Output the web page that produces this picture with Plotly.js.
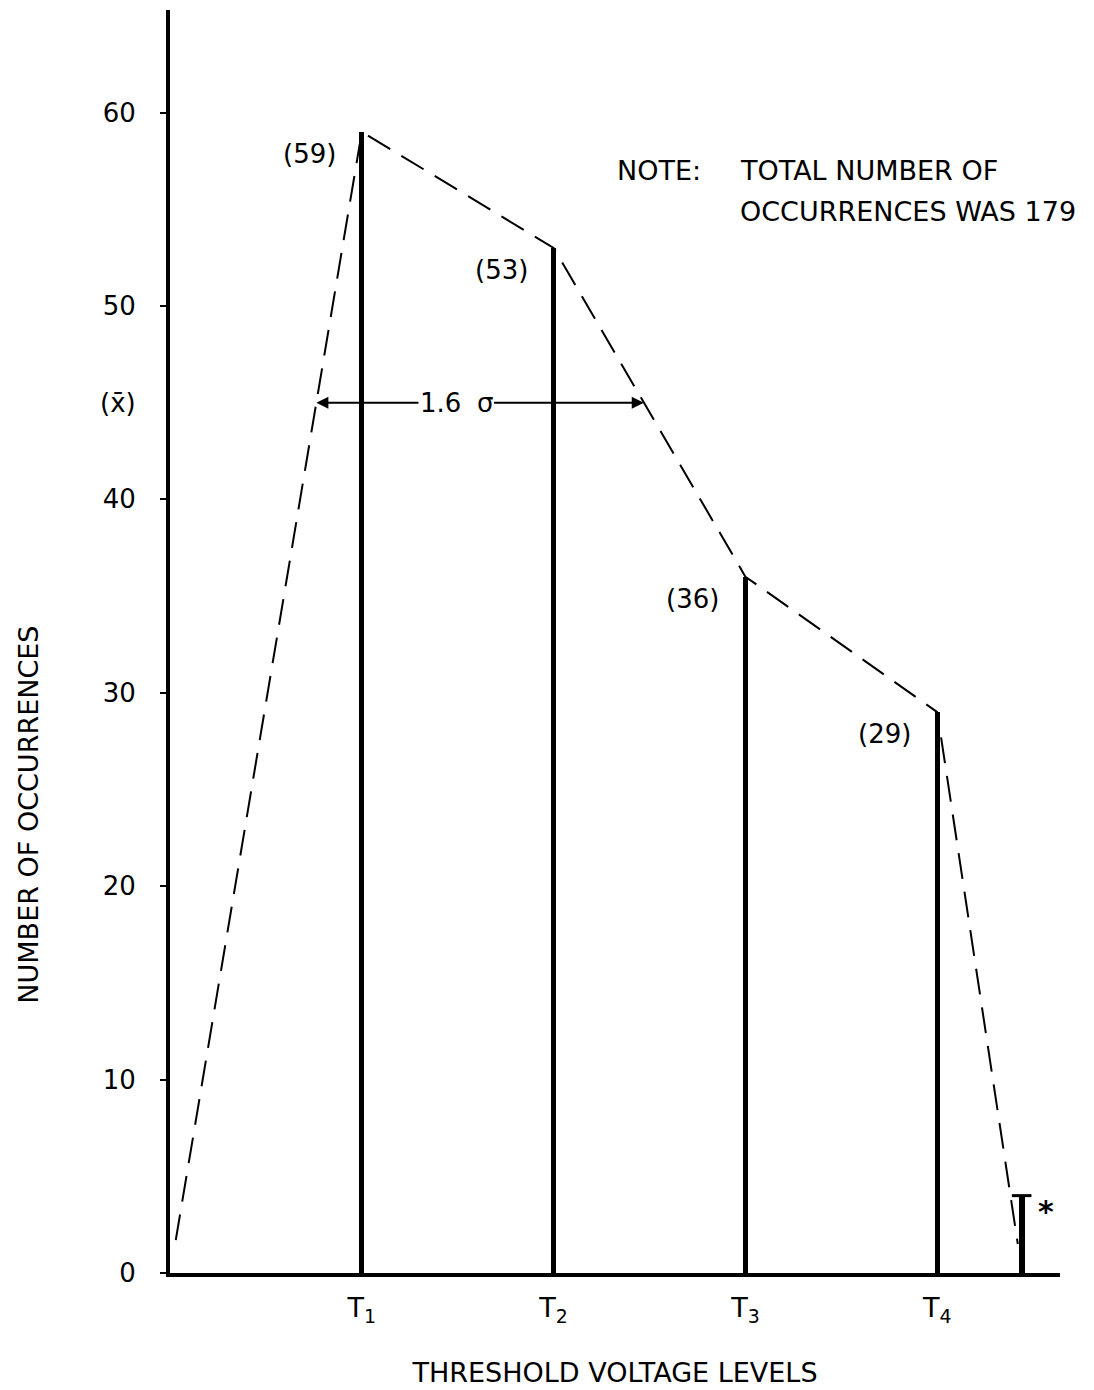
<!DOCTYPE html>
<html>
<head>
<meta charset="utf-8">
<script src="https://cdn.plot.ly/plotly-3.0.1.min.js"></script>
<style>html,body{margin:0;padding:0;background:#fff;}</style>
</head>
<body>
<div id="chart" style="width:1094px;height:1390px;"></div>
<script>
// ---- data ----
const levelPos = [1, 2, 3, 4];
const levelLabels = ["T<sub>1</sub>", "T<sub>2</sub>", "T<sub>3</sub>", "T<sub>4</sub>"];
const occurrences = [59, 53, 36, 29];
const countLabels = ["(59)", "(53)", "(36)", "(29)"];
const extraPos = [4.44];
const extraCount = [4];
const envelopeX = [0.03, 1, 2, 3, 4, 4.42];
const envelopeY = [1.7, 59, 53, 36, 29, 1.5];
const yTicks = [0, 10, 20, 30, 40, 50, 60];
const meanLevel = 45;
const spreadLeft = 0.763;
const spreadRight = 2.47;
const spreadText = ["1.6", "σ"];
const spreadTextPos = [1.41, 1.64];
const noteHead = "NOTE:";
const noteLines = ["TOTAL NUMBER OF", "OCCURRENCES WAS 179"];
const xTitle = "THRESHOLD VOLTAGE LEVELS";
const yTitle = "NUMBER OF OCCURRENCES";

const FONT = "'DejaVu Sans', 'Noto Sans', sans-serif";

const traces = [
  {
    type: "bar", x: levelPos, y: occurrences, width: 0.026,
    marker: {color: "#000", line: {width: 0}}, hoverinfo: "skip", showlegend: false
  },
  {
    type: "bar", x: extraPos, y: extraCount, width: 0.032,
    marker: {color: "#000", line: {width: 0}}, hoverinfo: "skip", showlegend: false
  },
  {
    type: "scatter", mode: "markers", x: extraPos, y: extraCount,
    marker: {symbol: "line-ew", size: 14, line: {width: 3, color: "#000"}},
    hoverinfo: "skip", showlegend: false
  },
  {
    type: "scatter", mode: "lines", x: envelopeX, y: envelopeY,
    line: {color: "#000", width: 2, dash: "26px,13px"},
    hoverinfo: "skip", showlegend: false
  }
];

const annotations = [];
levelPos.forEach((x, i) => {
  annotations.push({
    x: x, y: occurrences[i], xref: "x", yref: "y", text: countLabels[i],
    showarrow: false, xanchor: "right", yanchor: "middle", xshift: -24, yshift: -22,
    font: {family: FONT, size: 26, color: "#000"}
  });
});
// 1.6 sigma double arrow: each half of the label carries one arrow
annotations.push({
  x: spreadLeft, y: meanLevel, ax: spreadTextPos[0], ay: meanLevel,
  xref: "x", yref: "y", axref: "x", ayref: "y",
  text: spreadText[0], showarrow: true, arrowhead: 2, arrowsize: 1.2, arrowwidth: 2, arrowcolor: "#000",
  font: {family: FONT, size: 26, color: "#000"}
});
annotations.push({
  x: spreadRight, y: meanLevel, ax: spreadTextPos[1], ay: meanLevel,
  xref: "x", yref: "y", axref: "x", ayref: "y",
  text: spreadText[1], showarrow: true, arrowhead: 2, arrowsize: 1.2, arrowwidth: 2, arrowcolor: "#000",
  font: {family: FONT, size: 26, color: "#000"}
});
annotations.push({
  x: 0, y: meanLevel, xref: "x", yref: "y", text: "(x̄)", showarrow: false,
  xanchor: "right", xshift: -32, font: {family: FONT, size: 26, color: "#000"}
});
// note
annotations.push({
  x: 2.32, y: 57, xref: "x", yref: "y", text: noteHead, showarrow: false,
  xanchor: "left", yanchor: "middle", font: {family: FONT, size: 27, color: "#000"}
});
annotations.push({
  x: 2.96, y: 57, xref: "x", yref: "y", text: noteLines[0], showarrow: false,
  xanchor: "left", yanchor: "middle", font: {family: FONT, size: 27, color: "#000"}
});
annotations.push({
  x: 2.96, y: 54.9, xref: "x", yref: "y", text: noteLines[1], showarrow: false,
  xanchor: "left", yanchor: "middle", font: {family: FONT, size: 27, color: "#000"}
});
// asterisk
annotations.push({
  x: extraPos[0], y: extraCount[0], xref: "x", yref: "y", text: "<b>*</b>", showarrow: false,
  xanchor: "left", yanchor: "top", xshift: 14, yshift: 4, font: {family: FONT, size: 30, color: "#000"}
});
// y axis title (placed lower than the plot centre, as in the reference)
annotations.push({
  x: -0.16, y: 0.3626, xref: "paper", yref: "paper", text: yTitle, showarrow: false,
  textangle: -90, xanchor: "center", yanchor: "middle",
  font: {family: FONT, size: 27, color: "#000"}
});

const layout = {
  width: 1094, height: 1390,
  margin: {l: 170, r: 34, t: 10, b: 117},
  paper_bgcolor: "#fff", plot_bgcolor: "#fff",
  bargap: 0,
  font: {family: FONT, size: 26, color: "#000"},
  xaxis: {
    range: [0, 4.64], showgrid: false, zeroline: false,
    showline: true, linewidth: 4, linecolor: "#000",
    tickmode: "array", tickvals: levelPos, ticktext: levelLabels,
    ticks: "", ticklabelstandoff: 8,
    tickfont: {family: FONT, size: 27, color: "#000"},
    title: {text: xTitle, font: {family: FONT, size: 27, color: "#000"}, standoff: 38},
    fixedrange: true
  },
  yaxis: {
    range: [0, 65.3], showgrid: false, zeroline: false,
    showline: true, linewidth: 4, linecolor: "#000",
    tickmode: "array", tickvals: yTicks,
    ticks: "outside", ticklen: 6, tickwidth: 2, tickcolor: "#000",
    ticklabelstandoff: 19,
    tickfont: {family: FONT, size: 26, color: "#000"},
    fixedrange: true
  },
  annotations: annotations,
  showlegend: false
};

Plotly.newPlot("chart", traces, layout, {displayModeBar: false, staticPlot: true});
</script>
</body>
</html>
